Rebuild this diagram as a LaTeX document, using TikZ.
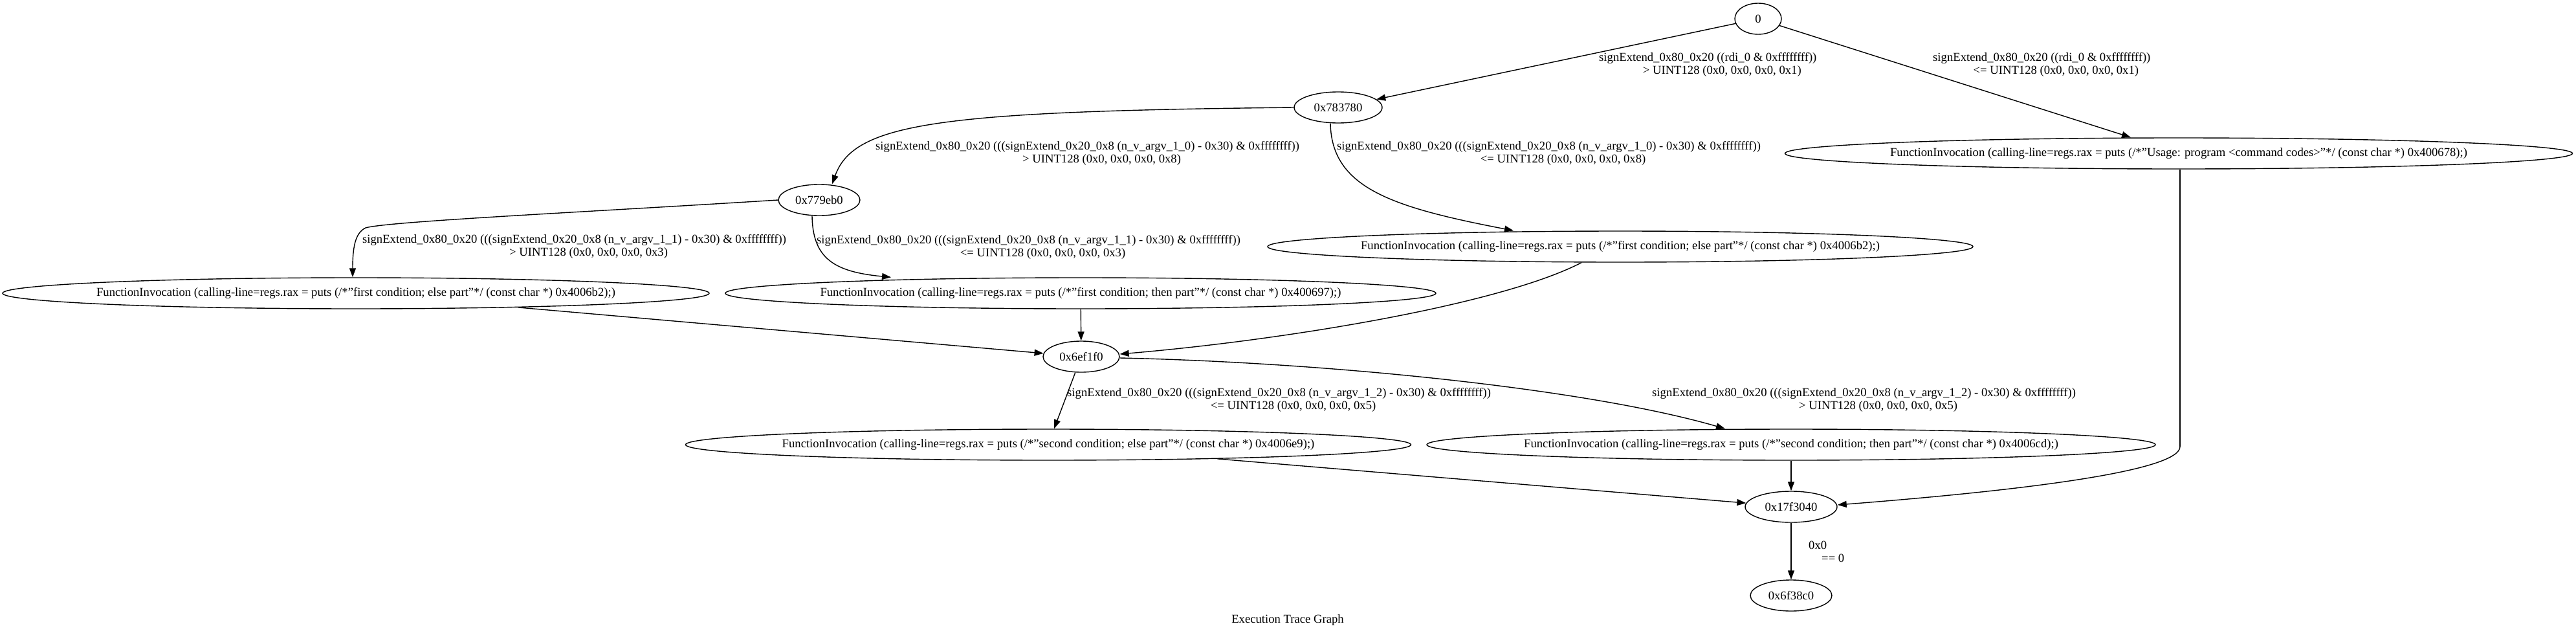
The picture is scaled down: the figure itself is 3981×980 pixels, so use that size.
\documentclass[tikz,border=0pt]{standalone}
\usepackage{fontspec}
\setmainfont{Liberation Serif}
\usetikzlibrary{arrows.meta,shapes.geometric}
\begin{document}
\begin{tikzpicture}[x=1pt,y=-1pt,
  ell/.style={draw, ellipse, line width=1.4pt, inner sep=0pt, minimum height=48pt},
  txt/.style={inner sep=0pt, font=\fontsize{18.67}{20}\selectfont},
  lab/.style={inner sep=0pt, anchor=west, align=center, font=\fontsize{18.67}{20}\selectfont},
  conn/.style={line width=1.4pt, -{Triangle[length=14pt,width=10pt]}}
]
\fill[white] (0,0) rectangle (3981,980);
\useasboundingbox (0,0) rectangle (3981,980);

% nodes
\node[ell, minimum width=72pt]  (n0) at (2717,29) {};
\node[txt] (n0t) at (n0) {0};
\node[ell, minimum width=136pt] (n1) at (2068,166) {};
\node[txt] (n1t) at (n1) {0x783780};
\node[ell, minimum width=126pt] (n2) at (1266,309) {};
\node[txt] (n2t) at (n2) {0x779eb0};
\node[ell, minimum width=1217pt] (usage) at (3367,237) {};
\node[txt] (usaget) at (usage) {FunctionInvocation (calling-line=regs.rax = puts (/*"Usage: program <command codes>"*/ (const char *) 0x400678);)};
\node[ell, minimum width=1090pt] (else1) at (2504,381) {};
\node[txt] (else1t) at (else1) {FunctionInvocation (calling-line=regs.rax = puts (/*"first condition; else part"*/ (const char *) 0x4006b2);)};
\node[ell, minimum width=1092pt] (leftFI) at (550,453) {};
\node[txt] (leftFIt) at (leftFI) {FunctionInvocation (calling-line=regs.rax = puts (/*"first condition; else part"*/ (const char *) 0x4006b2);)};
\node[ell, minimum width=1098pt] (then1) at (1670,453) {};
\node[txt] (then1t) at (then1) {FunctionInvocation (calling-line=regs.rax = puts (/*"first condition; then part"*/ (const char *) 0x400697);)};
\node[ell, minimum width=118pt] (n3) at (1671,551) {};
\node[txt] (n3t) at (n3) {0x6ef1f0};
\node[ell, minimum width=1121pt] (else2) at (1620,687) {};
\node[txt] (else2t) at (else2) {FunctionInvocation (calling-line=regs.rax = puts (/*"second condition; else part"*/ (const char *) 0x4006e9);)};
\node[ell, minimum width=1126pt] (then2) at (2768,687) {};
\node[txt] (then2t) at (then2) {FunctionInvocation (calling-line=regs.rax = puts (/*"second condition; then part"*/ (const char *) 0x4006cd);)};
\node[ell, minimum width=142pt] (n4) at (2768,783) {};
\node[txt] (n4t) at (n4) {0x17f3040};
\node[ell, minimum width=126pt] (n5) at (2768,920) {};
\node[txt] (n5t) at (n5) {0x6f38c0};

\coordinate (ubend) at (3369,690);
\coordinate (b5) at (565,352);

% edges
\draw[conn] (n0) -- (n1);
\draw[conn] (n0) -- ([xshift=-74pt]usage.north);
\draw[conn] (n1.west) .. controls (1450,172) and (1320,190) .. ([xshift=20pt]n2.north);
\draw[conn] ([xshift=-12pt]n1.south) .. controls (2058,290) and (2150,320) .. ([xshift=-165pt]else1.north);
\draw[conn] (n2.west) .. controls (900,328) and (600,342) .. (b5) .. controls (548,360) and (545,385) .. ([xshift=-5pt]leftFI.north);
\draw[conn] ([xshift=-11pt]n2.south) .. controls (1256,400) and (1290,420) .. ([xshift=-293pt]then1.north);
\draw[conn] (leftFI) -- (n3);
\draw[conn] (then1) -- (n3);
\draw[conn] ([xshift=-60pt]else1.south) .. controls (2320,470) and (1990,525) .. ([yshift=4pt]n3.east);
\draw[conn] (n3) -- ([xshift=9pt]else2.north);
\draw[conn] ([yshift=-2pt]n3.east) .. controls (2050,560) and (2450,600) .. ([xshift=-102pt]then2.north);
\draw[conn] (else2) -- (n4);
\draw[conn] (then2) -- (n4);
\draw[line width=1.4pt] ([xshift=2pt]usage.south) -- (ubend);
\draw[conn] (ubend) .. controls (3369,725) and (3160,755) .. ([yshift=3pt]n4.east);
\draw[conn] (n4) -- (n5);

% edge labels
\node[lab] (l1) at (2471,100) {signExtend\_0x80\_0x20 ((rdi\_0 \& 0xffffffff))\\\hspace*{44pt}> UINT128 (0x0, 0x0, 0x0, 0x1)};
\node[lab] (l2) at (2987,100) {signExtend\_0x80\_0x20 ((rdi\_0 \& 0xffffffff))\\\hspace*{44pt}<= UINT128 (0x0, 0x0, 0x0, 0x1)};
\node[lab] (l3) at (1353,237) {signExtend\_0x80\_0x20 (((signExtend\_0x20\_0x8 (n\_v\_argv\_1\_0) - 0x30) \& 0xffffffff))\\\hspace*{44pt}> UINT128 (0x0, 0x0, 0x0, 0x8)};
\node[lab] (l4) at (2066,237) {signExtend\_0x80\_0x20 (((signExtend\_0x20\_0x8 (n\_v\_argv\_1\_0) - 0x30) \& 0xffffffff))\\\hspace*{44pt}<= UINT128 (0x0, 0x0, 0x0, 0x8)};
\node[lab] (l5) at (560,381) {signExtend\_0x80\_0x20 (((signExtend\_0x20\_0x8 (n\_v\_argv\_1\_1) - 0x30) \& 0xffffffff))\\\hspace*{44pt}> UINT128 (0x0, 0x0, 0x0, 0x3)};
\node[lab] (l6) at (1262,382) {signExtend\_0x80\_0x20 (((signExtend\_0x20\_0x8 (n\_v\_argv\_1\_1) - 0x30) \& 0xffffffff))\\\hspace*{44pt}<= UINT128 (0x0, 0x0, 0x0, 0x3)};
\node[lab] (l7) at (1649,618) {signExtend\_0x80\_0x20 (((signExtend\_0x20\_0x8 (n\_v\_argv\_1\_2) - 0x30) \& 0xffffffff))\\\hspace*{44pt}<= UINT128 (0x0, 0x0, 0x0, 0x5)};
\node[lab] (l8) at (2553,618) {signExtend\_0x80\_0x20 (((signExtend\_0x20\_0x8 (n\_v\_argv\_1\_2) - 0x30) \& 0xffffffff))\\\hspace*{44pt}> UINT128 (0x0, 0x0, 0x0, 0x5)};
\node[lab, align=left] (l9) at (2795,852) {0x0\\\hspace*{20pt}== 0};

\node[txt] (title) at (1990,958) {Execution Trace Graph};
\end{tikzpicture}
\end{document}
